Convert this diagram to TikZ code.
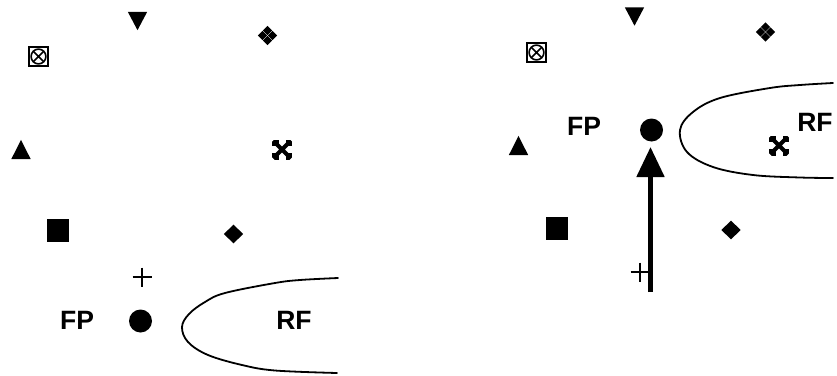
\documentclass[tikz,border=0pt]{standalone}
\usepackage{fontspec}
\setmainfont{Liberation Sans}
\usetikzlibrary{arrows.meta}
\tikzset{
  lbl/.style={font=\fontsize{26.5}{28}\selectfont\bfseries, inner sep=0pt},
  fixdot/.style={circle, fill=black, minimum size=23pt, inner sep=0pt},
  rfline/.style={line width=1.8pt, line join=round, line cap=round},
  pics/dntri/.style={code={\fill (-9.7,-9.2) -- (9.7,-9.2) -- (0,9.2) -- cycle;}},
  pics/uptri/.style={code={\fill (-9.7,9.6) -- (9.7,9.6) -- (0,-9.6) -- cycle;}},
  pics/sqr/.style={code={\fill (-11.2,-11.5) rectangle (11.2,11.5);}},
  pics/dmd/.style={code={\fill (-9.7,0) -- (0,-9.3) -- (9.7,0) -- (0,9.3) -- cycle;}},
  pics/plussym/.style={code={\draw[line width=1.6pt] (-9.5,0) -- (9.5,0) (0,-9.5) -- (0,9.5);}},
  pics/fourdmd/.style={code={
    \foreach \dx/\dy in {0/-5,5/0,0/5,-5/0}{
      \fill (\dx-4.6,\dy) -- (\dx,\dy-4.6) -- (\dx+4.6,\dy) -- (\dx,\dy+4.6) -- cycle;}}},
  pics/xcross/.style={code={
    \draw[line width=4.2pt] (-6,-6) -- (6,6) (-6,6) -- (6,-6);
    \fill (3.5,3.5) rectangle (10,10);
    \fill (-3.5,3.5) rectangle (-10,10);
    \fill (3.5,-3.5) rectangle (10,-10);
    \fill (-3.5,-3.5) rectangle (-10,-10);
    \fill[white] (7.5,10.5) -- (10.5,10.5) -- (10.5,7.5) -- cycle;
    \fill[white] (-7.5,10.5) -- (-10.5,10.5) -- (-10.5,7.5) -- cycle;
    \fill[white] (7.5,-10.5) -- (10.5,-10.5) -- (10.5,-7.5) -- cycle;
    \fill[white] (-7.5,-10.5) -- (-10.5,-10.5) -- (-10.5,-7.5) -- cycle;}},
  pics/boxx/.style={code={
    \draw[line width=1.3pt] (-9.5,-9.5) rectangle (9.5,9.5);
    \draw[line width=1.6pt] (0,0) circle[radius=7.4pt];
    \draw[line width=1.6pt] (-5.2,-5.2) -- (5.2,5.2) (-5.2,5.2) -- (5.2,-5.2);}}
}
\begin{document}
\begin{tikzpicture}[x=1pt,y=-1pt]
\useasboundingbox (0,0) rectangle (837,375);
% ---------- left panel ----------
\pic (dnL) at (137.5,21) {dntri};
\pic (fdL) at (267.5,35.5) {fourdmd};
\pic (bxL) at (38.5,56.5) {boxx};
\pic (upL) at (21,149.5) {uptri};
\pic (xcL) at (282,149.5) {xcross};
\pic (sqL) at (58,230.5) {sqr};
\pic (dmL) at (233.5,234) {dmd};
\pic (plL) at (142,277) {plussym};
\node[fixdot] (fpdotL) at (140.5,321) {};
\node[lbl] (fpL) at (77,320) {FP};
\node[lbl] (rfL) at (294,320) {RF};
\draw[rfline] plot[smooth, tension=0.6] coordinates {(338,278) (300,280) (275,283) (225,293) (205,302) (189,314) (182,327) (188,342) (208,355) (242,365) (275,370.5) (337,373)};
% ---------- right panel ----------
\pic (dnR) at (634.5,16.5) {dntri};
\pic (fdR) at (765.5,32) {fourdmd};
\pic (bxR) at (536.5,52.5) {boxx};
\pic (upR) at (518.5,145.5) {uptri};
\node[fixdot] (fpdotR) at (651.5,130) {};
\node[lbl] (fpR) at (584,126) {FP};
\node[lbl] (rfR) at (815,122) {RF};
\pic (xcR) at (779,145.5) {xcross};
\pic (sqR) at (557,228) {sqr};
\pic (dmR) at (731,230) {dmd};
\pic (plR) at (640,272) {plussym};
\draw[rfline] plot[smooth, tension=0.6] coordinates {(833,83) (800,85) (770,88) (720,98) (693,112) (680,130) (687,152) (713,167) (753,175) (800,177.5) (833,178)};
\coordinate (arrS) at (650.5,292);
\coordinate (arrE) at (650.5,147);
\draw[line width=5pt, -{Triangle[length=30pt,width=27pt]}] (arrS) -- (arrE);
\end{tikzpicture}
\end{document}
